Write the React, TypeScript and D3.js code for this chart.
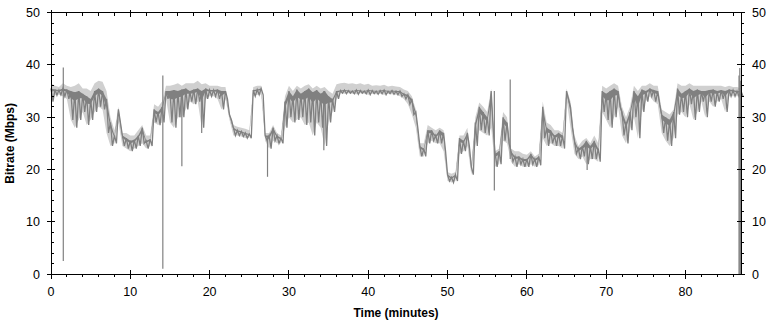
import React, { useEffect, useRef } from 'react';
import * as d3 from 'd3';

// samples every 0.5 minutes, 0 .. 87
const STEP = 0.5;
const hiRate = [
  35.5, 35.3, 35.2, 35.5, 35.3, 35.0, 34.8, 35.0, 34.5, 34.0, 33.5, 35.0, 35.5, 35.0, 33.5, 29.0, 26.5, 31.5, 26.5, 26.0,
  25.5, 25.7, 26.5, 28.0, 25.5, 25.8, 31.5, 31.0, 32.0, 35.0, 35.0, 35.2, 35.0, 35.3, 35.5, 35.0, 35.3, 35.5, 35.0, 35.5,
  35.2, 35.2, 35.3, 35.0, 35.0, 30.5, 28.0, 27.5, 27.3, 27.0, 26.8, 35.2, 35.3, 35.5, 26.5, 26.5, 28.0, 26.5, 26.0, 33.0,
  35.0, 34.0, 35.3, 34.5, 35.0, 35.5, 34.8, 35.2, 34.5, 35.0, 34.0, 33.5, 35.0, 35.1, 35.2, 35.1, 35.0, 35.2, 35.1, 35.0,
  35.2, 35.1, 35.0, 35.1, 35.2, 35.0, 35.1, 35.0, 35.0, 34.5, 34.3, 33.5, 31.0, 24.5, 24.0, 27.5, 27.5, 26.5, 27.5, 27.0,
  19.0, 18.5, 19.0, 26.0, 25.5, 27.0, 20.5, 29.0, 32.0, 31.0, 30.0, 35.0, 23.0, 23.5, 30.0, 29.0, 23.5, 22.5, 22.5, 22.0,
  22.0, 23.0, 22.0, 22.5, 32.0, 28.0, 27.5, 26.5, 27.0, 26.5, 35.0, 32.0, 25.5, 24.0, 24.5, 25.5, 24.5, 25.5, 24.0, 35.0,
  34.5, 35.0, 35.5, 35.0, 31.0, 29.0, 31.0, 35.0, 34.0, 35.3, 35.0, 35.5, 35.2, 35.0, 30.5, 30.0, 29.5, 31.0, 35.5, 34.5,
  35.0, 35.5, 35.0, 35.3, 35.0, 35.0, 35.2, 35.3, 35.0, 35.2, 35.0, 35.3, 35.2, 35.0, 35.0,
];
const loRate = [
  33.0, 34.2, 34.3, 34.0, 33.5, 29.5, 28.0, 29.5, 31.0, 28.5, 29.5, 31.0, 32.0, 31.5, 27.0, 24.5, 25.0, 29.0, 24.5, 24.0,
  23.5, 24.0, 24.5, 25.0, 24.0, 24.5, 29.0, 28.5, 29.0, 33.5, 29.0, 28.0, 30.0, 30.0, 31.5, 33.0, 32.5, 33.0, 28.0, 33.5,
  34.0, 34.0, 33.5, 31.5, 33.5, 29.5, 26.5, 26.5, 26.3, 26.0, 26.0, 34.0, 34.3, 34.3, 25.5, 24.0, 25.5, 25.0, 25.0, 28.0,
  30.0, 29.0, 29.5, 30.0, 28.5, 29.0, 26.5, 29.0, 28.0, 24.5, 29.0, 31.0, 33.5, 34.6, 34.5, 34.6, 34.5, 34.4, 34.6, 34.5,
  34.3, 34.5, 34.4, 34.5, 34.3, 34.5, 34.4, 34.3, 34.0, 33.5, 32.5, 30.5, 28.0, 22.5, 22.5, 25.0, 25.5, 25.0, 25.0, 23.5,
  17.8, 17.5, 17.8, 23.0, 23.5, 24.5, 19.0, 24.5, 27.5, 27.0, 26.5, 28.0, 20.5, 21.0, 25.5, 25.0, 21.5, 20.5, 21.0, 20.5,
  20.5, 21.0, 20.5, 20.8, 26.0, 24.5, 25.0, 24.5, 24.5, 24.0, 33.5, 28.0, 23.0, 22.0, 22.5, 21.0, 22.0, 22.0, 21.5, 31.0,
  29.5, 28.0, 30.0, 32.0, 26.5, 25.0, 27.5, 30.0, 26.0, 31.0, 33.0, 34.0, 33.0, 32.5, 27.0, 25.5, 24.5, 26.0, 30.5, 31.0,
  30.0, 32.5, 29.5, 31.0, 33.0, 30.0, 33.0, 32.0, 33.0, 33.5, 31.0, 34.0, 34.0, 34.0, 34.0,
];
const peakRate = [
  36.5, 36.0, 35.8, 36.5, 36.0, 35.8, 36.0, 36.5, 35.5, 35.5, 35.0, 36.5, 37.0, 36.8, 35.0, 30.0, 27.5, 32.0, 27.0, 27.0,
  26.5, 26.5, 27.5, 28.5, 26.5, 26.5, 32.5, 32.0, 33.0, 36.0, 36.0, 36.2, 36.5, 36.0, 36.5, 36.5, 36.5, 37.0, 36.3, 36.5,
  36.0, 36.0, 36.0, 35.8, 35.8, 31.0, 28.5, 28.2, 28.0, 27.8, 27.5, 35.8, 36.0, 36.0, 27.0, 27.0, 28.5, 27.0, 26.5, 34.0,
  36.0, 35.0, 36.0, 35.5, 36.0, 36.3, 35.5, 36.0, 35.5, 35.8, 35.0, 34.5, 36.3, 36.5, 36.6, 36.4, 36.5, 36.3, 36.5, 36.2,
  36.4, 36.0, 36.1, 36.0, 36.2, 35.9, 36.0, 35.9, 35.8, 35.3, 35.0, 34.0, 31.5, 25.0, 25.0, 28.5, 28.0, 27.5, 28.0, 27.5,
  19.5, 19.2, 19.5, 26.5, 26.5, 28.0, 21.0, 30.0, 32.8, 32.0, 31.0, 35.5, 23.5, 24.0, 31.0, 30.0, 24.0, 23.5, 23.5, 23.0,
  22.8, 23.5, 22.5, 23.0, 33.0, 29.0, 28.5, 27.5, 27.5, 27.0, 35.5, 33.0, 26.5, 24.5, 25.5, 26.0, 25.0, 26.5, 25.0, 36.0,
  35.5, 36.0, 36.5, 36.0, 32.0, 30.0, 32.0, 36.0, 35.0, 36.0, 36.0, 36.5, 36.0, 36.0, 31.5, 31.0, 30.5, 31.5, 36.5, 36.0,
  36.0, 36.5, 36.0, 36.0, 36.0, 36.0, 36.0, 36.0, 36.0, 36.0, 35.8, 36.0, 35.8, 35.8, 35.5,
];

// isolated drops / peaks: [minute, low, high]
const spikes: [number, number, number][] = [
  [1.55, 2.5, 39.5],
  [14.1, 1.0, 38.0],
  [16.5, 20.6, 35.0],
  [19.0, 27.0, 35.0],
  [27.3, 18.6, 26.0],
  [34.4, 23.7, 35.0],
  [55.9, 16.0, 35.0],
  [57.9, 22.0, 37.2],
  [67.6, 19.9, 25.0],
  [86.75, 0, 38.0],
  [86.85, 0, 39.4],
  [86.95, 0, 37.0],
];

const xMajor = [0, 10, 20, 30, 40, 50, 60, 70, 80];
const yMajor = [0, 10, 20, 30, 40, 50];

const W = 770;
const H = 324;
const X0 = 51;
const X1 = 741;
const Y0 = 274;
const Y1 = 12.7;

export default function App() {
  const ref = useRef<SVGSVGElement>(null);

  useEffect(() => {
    document.body.style.margin = '0';
    if (!ref.current) return;
    const svg = d3.select(ref.current);
    svg.selectAll('*').remove();

    const x = d3.scaleLinear().domain([0, 87]).range([X0, X1]);
    const y = d3.scaleLinear().domain([0, 50]).range([Y0, Y1]);
    const font = 'Liberation Sans, Arial, sans-serif';

    const pts = hiRate.map((h, i) => ({ t: i * STEP, hi: h, lo: loRate[i], pk: peakRate[i] }));

    // light series behind
    const light = d3.area<any>().x(d => x(d.t)).y0(d => y(d.lo)).y1(d => y(d.pk));
    svg.append('path').attr('d', light(pts) as string).attr('fill', '#d0d0d0');

    // dark series: trace bouncing between high and low of each sample
    const zig: [number, number][] = [];
    pts.forEach(d => {
      zig.push([d.t, d.hi]);
      zig.push([d.t + STEP / 2, d.lo]);
    });
    const line = d3.line<[number, number]>().x(d => x(d[0])).y(d => y(d[1]));
    svg.append('path').attr('d', line(zig) as string)
      .attr('fill', 'none').attr('stroke', '#808080').attr('stroke-width', 1.3);
    const band = d3.area<any>().x(d => x(d.t)).y0(d => y((d.lo + d.hi * 3) / 4)).y1(d => y(d.hi));
    svg.append('path').attr('d', band(pts) as string).attr('fill', '#808080');

    svg.append('g').selectAll('line').data(spikes).join('line')
      .attr('x1', d => x(d[0])).attr('x2', d => x(d[0]))
      .attr('y1', d => y(d[1])).attr('y2', d => y(d[2]))
      .attr('stroke', '#808080').attr('stroke-width', 1.2);

    // frame
    const g = svg.append('g').attr('stroke', '#000').attr('stroke-width', 1).attr('shape-rendering', 'crispEdges');
    g.append('line').attr('x1', X0).attr('x2', X1).attr('y1', Y0).attr('y2', Y0);
    g.append('line').attr('x1', X0).attr('x2', X1).attr('y1', Y1).attr('y2', Y1);
    g.append('line').attr('x1', X0).attr('x2', X0).attr('y1', Y0).attr('y2', Y1);
    g.append('line').attr('x1', X1).attr('x2', X1).attr('y1', Y0).attr('y2', Y1);

    const xMinor = d3.range(0, 87, 2).filter(v => v % 10 !== 0);
    const yMinor = d3.range(0, 50, 2).filter(v => v % 10 !== 0);

    xMajor.forEach(v => {
      g.append('line').attr('x1', x(v)).attr('x2', x(v)).attr('y1', Y0 - 4).attr('y2', Y0 + 5);
      g.append('line').attr('x1', x(v)).attr('x2', x(v)).attr('y1', Y1 - 3).attr('y2', Y1 + 4);
    });
    xMinor.forEach(v => {
      g.append('line').attr('x1', x(v)).attr('x2', x(v)).attr('y1', Y0).attr('y2', Y0 + 3);
      g.append('line').attr('x1', x(v)).attr('x2', x(v)).attr('y1', Y1).attr('y2', Y1 + 3);
    });
    yMajor.forEach(v => {
      g.append('line').attr('x1', X0 - 4).attr('x2', X0 + 4).attr('y1', y(v)).attr('y2', y(v));
      g.append('line').attr('x1', X1 - 4).attr('x2', X1 + 4).attr('y1', y(v)).attr('y2', y(v));
    });
    yMinor.forEach(v => {
      g.append('line').attr('x1', X0).attr('x2', X0 + 3).attr('y1', y(v)).attr('y2', y(v));
      g.append('line').attr('x1', X1).attr('x2', X1 + 3).attr('y1', y(v)).attr('y2', y(v));
    });

    const txt = svg.append('g').attr('font-family', font).attr('font-size', 12.5).attr('fill', '#000');
    xMajor.forEach(v => {
      txt.append('text').attr('x', x(v)).attr('y', 296).attr('text-anchor', 'middle').text(v);
    });
    yMajor.forEach(v => {
      txt.append('text').attr('x', 40).attr('y', y(v) + 4.5).attr('text-anchor', 'end').text(v);
      txt.append('text').attr('x', 752).attr('y', y(v) + 4.5).attr('text-anchor', 'start').text(v);
    });

    svg.append('text').attr('font-family', font).attr('font-size', 12).attr('font-weight', 'bold')
      .attr('x', (X0 + X1) / 2).attr('y', 317).attr('text-anchor', 'middle').text('Time (minutes)');
    svg.append('text').attr('font-family', font).attr('font-size', 12).attr('font-weight', 'bold')
      .attr('transform', `translate(14,${(Y0 + Y1) / 2}) rotate(-90)`).attr('text-anchor', 'middle')
      .text('Bitrate (Mbps)');
  }, []);

  return <svg ref={ref} width={W} height={H} style={{ display: 'block', background: '#fff' }} />;
}
